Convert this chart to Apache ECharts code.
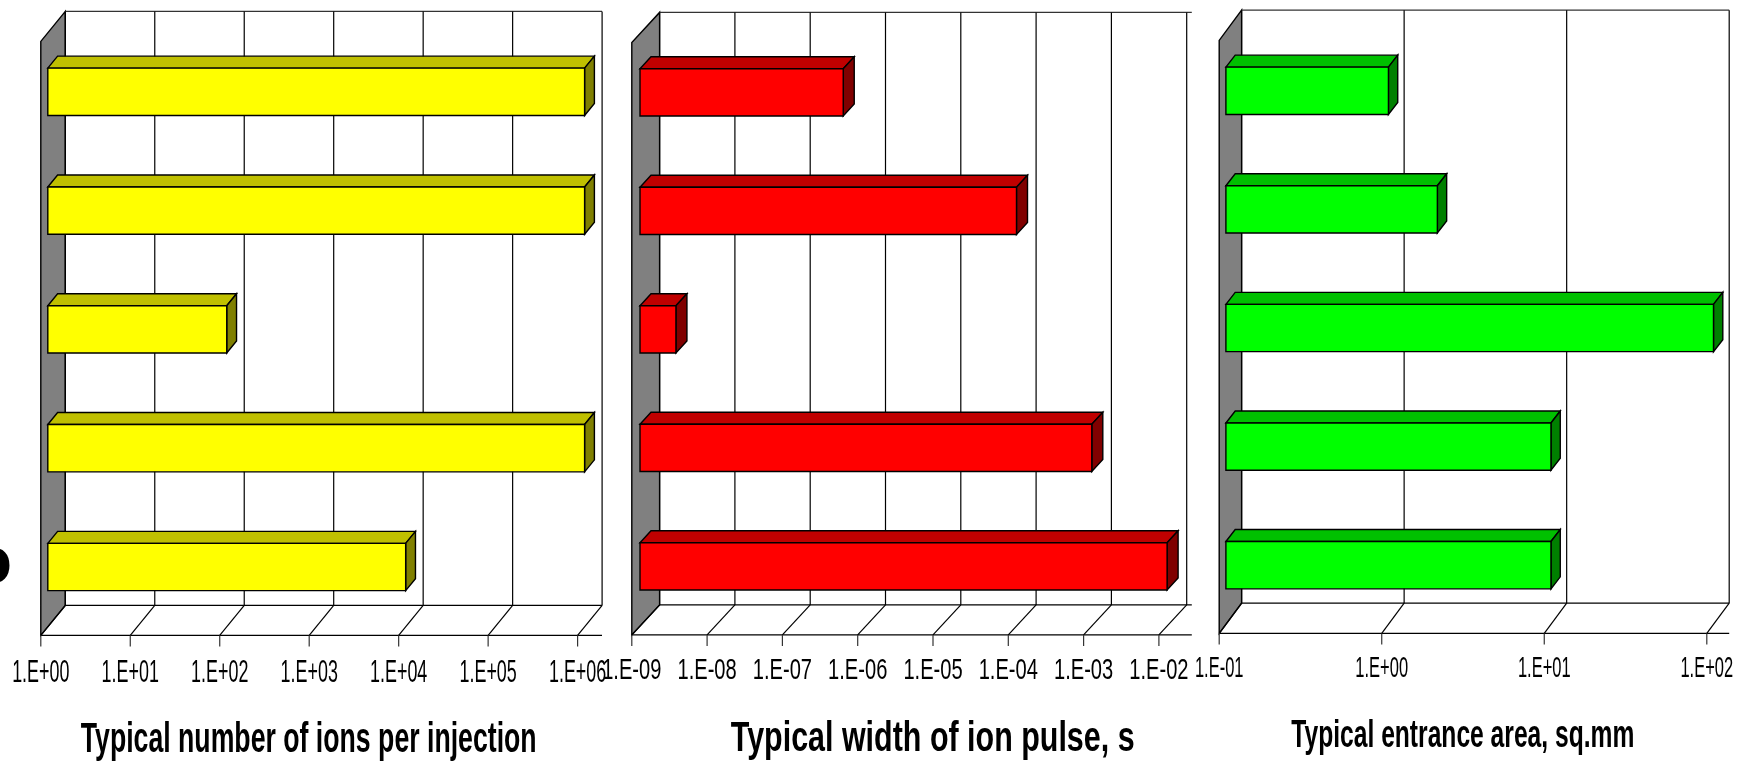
<!DOCTYPE html>
<html>
<head>
<meta charset="utf-8">
<style>html,body{margin:0;padding:0;background:#fff}#c{width:1748px;height:764px}</style>
<script src="https://cdn.jsdelivr.net/npm/echarts@6/dist/echarts.min.js"></script>
</head>
<body>
<div id="c"></div>
<script>
var categories = ["1", "2", "3", "4", "5"];

var ionCounts = [1e6, 1e6, 1e2, 1e6, 1e4];
var pulseWidths = [5e-7, 1e-4, 3e-9, 1e-3, 1e-2];
var entranceAreas = [1, 2, 100, 10, 10];

var ionTicks = ["1.E+00", "1.E+01", "1.E+02", "1.E+03", "1.E+04", "1.E+05", "1.E+06"];
var pulseTicks = ["1.E-09", "1.E-08", "1.E-07", "1.E-06", "1.E-05", "1.E-04", "1.E-03", "1.E-02"];
var areaTicks = ["1.E-01", "1.E+00", "1.E+01", "1.E+02"];

var ionTitle = "Typical number of ions per injection";
var pulseTitle = "Typical width of ion pulse, s";
var areaTitle = "Typical entrance area, sq.mm";

var FONT = '"Liberation Sans", Arial, sans-serif';

var panels = [
  { values: ionCounts, ticks: ionTicks, title: ionTitle, min: 1, max: 1e6,
    left: 40.8, top: 41.4, width: 536.8, height: 594, depth: [24.5, 30], barOff: [7, 9], barDepth: [9.8, 12],
    endX: 602, colors: ['#ffff00', '#c0c000', '#808000'],
    labelY: 673, labelW: 0.56, labelH: 32, titleX: 308.7, titleY: 740, titleSX: 0.635, titleSize: 42 },
  { values: pulseWidths, ticks: pulseTicks, title: pulseTitle, min: 1e-9, max: 1e-1,
    left: 631.8, top: 42.4, width: 602.4, height: 592.5, depth: [27.8, 30], barOff: [8.2, 9.3], barDepth: [11, 12],
    endX: 1191.8, colors: ['#ff0000', '#c00000', '#800000'],
    labelY: 671, labelW: 0.67, labelH: 30, titleX: 932.7, titleY: 739, titleSX: 0.725, titleSize: 42 },
  { values: entranceAreas, ticks: areaTicks, title: areaTitle, min: 0.1, max: 100,
    left: 1219.2, top: 40.4, width: 487.6, height: 593, depth: [22.4, 30.2], barOff: [6.7, 8.9], barDepth: [9.3, 12],
    endX: 1729.2, colors: ['#00ff00', '#00c000', '#008000'],
    labelY: 669, labelW: 0.55, labelH: 30, titleX: 1462.8, titleY: 737, titleSX: 0.648, titleSize: 38 }
];

var BAR_HEIGHT = 47.3;
var TICK_LEN = 11;

function line(x1, y1, x2, y2, color) {
  return { type: 'line', shape: { x1: x1, y1: y1, x2: x2, y2: y2 },
    style: { stroke: color || '#000', lineWidth: 1.2, fill: null }, silent: true };
}
function poly(points, fill) {
  return { type: 'polygon', shape: { points: points },
    style: { fill: fill, stroke: '#000', lineWidth: 1.4 }, silent: true };
}

function frameRenderer(p) {
  return function (params, api) {
    var x = api.coord([api.value(0), 0])[0];
    var cs = params.coordSys;
    var bottom = cs.y + cs.height, top = cs.y;
    var dx = p.depth[0], dy = p.depth[1];
    var children = [];
    if (params.dataIndex === 0) {
      children.push(poly([[x, bottom], [x, top], [x + dx, top - dy], [x + dx, bottom - dy]], '#808080'));
      children.push(line(x + dx, top - dy, p.endX, top - dy, '#333'));
      children.push(line(x + dx, bottom - dy, p.endX, bottom - dy, '#000'));
      children.push(line(x, bottom, p.endX, bottom, '#000'));
    }
    if (x + dx <= p.endX + 0.5) {
      children.push(line(x + dx, top - dy, x + dx, bottom - dy, '#000'));
    }
    children.push(line(x, bottom, x + dx, bottom - dy, '#000'));
    children.push(line(x, bottom, x, bottom + TICK_LEN, '#333'));
    return { type: 'group', children: children };
  };
}

function labelRenderer(p) {
  return function (params, api) {
    var x = api.coord([api.value(0), 0])[0];
    return { type: 'text', x: x, y: p.labelY, scaleX: p.labelW, scaleY: 1, silent: true,
      style: { text: p.ticks[params.dataIndex], fill: '#000', font: p.labelH + 'px ' + FONT,
        textAlign: 'center', textVerticalAlign: 'middle' } };
  };
}

function barRenderer(p) {
  return function (params, api) {
    var cat = api.value(1);
    var end = api.coord([api.value(0), cat]);
    var start = api.coord([p.min, cat]);
    var ox = p.barOff[0], oy = p.barOff[1];
    var x0 = start[0] + ox, x1 = end[0] + ox;
    var yT = end[1] - oy - BAR_HEIGHT / 2, yB = yT + BAR_HEIGHT;
    var dx = p.barDepth[0], dy = p.barDepth[1];
    return { type: 'group', children: [
      poly([[x0, yT], [x0 + dx, yT - dy], [x1 + dx, yT - dy], [x1, yT]], p.colors[1]),
      poly([[x1, yT], [x1 + dx, yT - dy], [x1 + dx, yB - dy], [x1, yB]], p.colors[2]),
      poly([[x0, yT], [x1, yT], [x1, yB], [x0, yB]], p.colors[0])
    ] };
  };
}

var grids = [], xAxes = [], yAxes = [], series = [], graphics = [];
panels.forEach(function (p, i) {
  grids.push({ left: p.left, top: p.top, width: p.width, height: p.height, containLabel: false, show: false });
  xAxes.push({ type: 'log', logBase: 10, gridIndex: i, min: p.min, max: p.max,
    axisLine: { show: false }, axisTick: { show: false }, axisLabel: { show: false }, splitLine: { show: false }, minorTick: { show: false } });
  yAxes.push({ type: 'category', gridIndex: i, data: categories, inverse: true,
    axisLine: { show: false }, axisTick: { show: false }, axisLabel: { show: false }, splitLine: { show: false } });
  var tickData = p.ticks.map(function (t) { return [Number(t), 0]; });
  series.push({ type: 'custom', name: 'frame' + i, xAxisIndex: i, yAxisIndex: i, z: 1, clip: false,
    encode: { x: 0, y: 1 }, data: tickData, renderItem: frameRenderer(p) });
  series.push({ type: 'custom', name: 'ticks' + i, xAxisIndex: i, yAxisIndex: i, z: 5, clip: false,
    encode: { x: 0, y: 1 }, data: tickData, renderItem: labelRenderer(p) });
  series.push({ type: 'custom', name: p.title, xAxisIndex: i, yAxisIndex: i, z: 3, clip: false,
    encode: { x: 0, y: 1 },
    data: p.values.map(function (v, k) { return [v, k]; }), renderItem: barRenderer(p) });
  graphics.push({ type: 'text', x: p.titleX, y: p.titleY, scaleX: p.titleSX, scaleY: 1, silent: true,
    style: { text: p.title, fill: '#000', font: 'bold ' + p.titleSize + 'px ' + FONT,
      textAlign: 'center', textVerticalAlign: 'middle' } });
});
graphics.push({ type: 'text', x: 12, y: 565, silent: true,
  style: { text: 'o', fill: '#000', font: 'bold 66px ' + FONT, textAlign: 'right', textVerticalAlign: 'middle' } });

var chart = echarts.init(document.getElementById('c'), null, { renderer: 'canvas' });
chart.setOption({
  animation: false,
  backgroundColor: '#ffffff',
  tooltip: { show: false },
  grid: grids, xAxis: xAxes, yAxis: yAxes, series: series, graphic: graphics
});
</script>
</body>
</html>
